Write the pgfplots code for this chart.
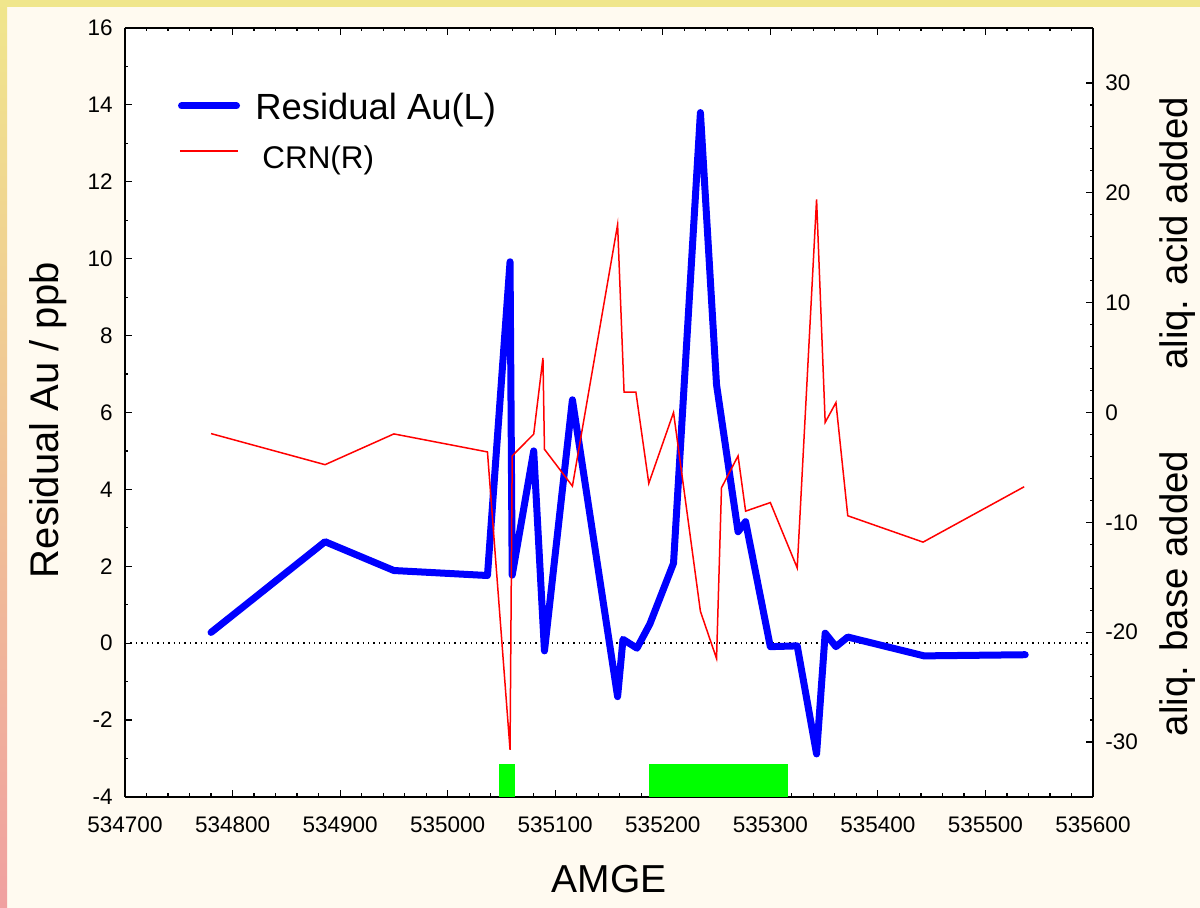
\documentclass[border=0pt]{standalone}
\usepackage{fontspec}
\setmainfont{Liberation Sans}
\usepackage{pgfplots}
\pgfplotsset{compat=1.18}
\definecolor{bgcream}{RGB}{255,250,240}
\definecolor{bandyellow}{RGB}{240,230,140}
\definecolor{bandpink}{RGB}{240,160,160}

\pgfplotstableread{
x y
534780 0.28
534886 2.64
534950 1.89
535037 1.76
535058 9.92
535060 1.77
535080 5.00
535090 -0.20
535116 6.33
535158 -1.39
535163 0.10
535176 -0.13
535188 0.50
535210 2.08
535235 13.80
535250 6.72
535270 2.90
535277 3.16
535300 -0.09
535325 -0.07
535343 -2.88
535351 0.26
535361 -0.09
535372 0.16
535443 -0.33
535537 -0.30
}\residual

\pgfplotstableread{
x y
534780 -1.92
534886 -4.75
534950 -1.95
535037 -3.59
535058 -30.7
535060 -3.95
535080 -1.97
535088.6 4.97
535090 -3.35
535116 -6.70
535158 17.1
535164 1.86
535175 1.86
535187 -6.45
535210 0.00
535235 -18.1
535250 -22.4
535254.6 -6.85
535270 -3.95
535277 -8.98
535300 -8.20
535325 -14.15
535343 19.4
535351 -0.90
535361 0.90
535372 -9.40
535442 -11.8
535536 -6.76
}\crn

\begin{document}
\begin{tikzpicture}
\useasboundingbox (0,0) rectangle (600pt,454pt);
\fill[bgcream] (0,0) rectangle (600pt,454pt);
\shade[top color=bandyellow, bottom color=bandpink] (0,0) rectangle (3.5pt,454pt);
\fill[bandyellow] (0,450.5pt) rectangle (600pt,454pt);

\pgfplotsset{
  common/.style={
    scale only axis, width=484pt, height=384.5pt,
    at={(62.5pt,55.5pt)}, anchor=south west,
    xmin=534700, xmax=535600,
    scaled x ticks=false, scaled y ticks=false,
    tick label style={font=\fontsize{11.25}{13}\selectfont},
    major tick length=3.5pt, minor tick length=1.75pt,
    every tick/.style={black, line width=0.6pt},
    axis line style={black, line width=1pt},
    tick align=inside,
  }
}

\begin{axis}[common,
  axis background/.style={fill=white},
  ymin=-4, ymax=16,
  axis y line*=left,
  xtick={534700,534800,534900,535000,535100,535200,535300,535400,535500,535600},
  xticklabels={534700,534800,534900,535000,535100,535200,535300,535400,535500,535600},
  minor x tick num=4,
  ytick={-4,-2,0,2,4,6,8,10,12,14,16},
  yticklabels={-4,-2,0,2,4,6,8,10,12,14,16},
  minor y tick num=1,
  xticklabel style={inner sep=0pt, yshift=-9.5pt},
  yticklabel style={inner sep=0pt, xshift=-6pt},
  xlabel={AMGE},
  xlabel style={at={(axis description cs:0.5,-0.1248)}, anchor=base, inner sep=0pt, font=\fontsize{19.5}{22}\selectfont},
  ylabel={Residual Au / ppb},
  ylabel style={at={(axis description cs:-0.0682,0.49)}, anchor=base, inner sep=0pt, font=\fontsize{20}{24}\selectfont},
]
\addplot[fill=green, draw=none, forget plot] coordinates {(535048,-4) (535048,-3.15) (535063,-3.15) (535063,-4)} -- cycle;
\addplot[fill=green, draw=none, forget plot] coordinates {(535187.5,-4) (535187.5,-3.15) (535316,-3.15) (535316,-4)} -- cycle;
\addplot[black, dotted, line width=0.7pt, forget plot] coordinates {(534700,0) (535600,0)};
\addplot[blue, line width=3.5pt, line cap=round, line join=round] table[x=x,y=y] {\residual};
\end{axis}

\begin{axis}[common,
  clip=false,
  ymin=-35, ymax=35,
  hide x axis,
  axis y line*=right,
  ytick={-30,-20,-10,0,10,20,30},
  yticklabels={-30,-20,-10,0,10,20,30},
  minor y tick num=4,
  yticklabel style={inner sep=0pt, xshift=6pt},
]
\addplot[red, line width=0.75pt, line join=miter] table[x=x,y=y] {\crn};

\draw[blue, line width=3.5pt, line cap=round] (axis description cs:0.0584,0.8986) -- (axis description cs:0.1152,0.8986);
\node[anchor=base west, inner sep=0pt, font=\fontsize{18.2}{21}\selectfont] at (axis description cs:0.1343,0.8804) {Residual Au(L)};
\draw[red, line width=0.75pt] (axis description cs:0.0568,0.8401) -- (axis description cs:0.1167,0.8401);
\node[anchor=base west, inner sep=0pt, font=\fontsize{15.7}{18}\selectfont] at (axis description cs:0.1416,0.8179) {CRN(R)};

\node[rotate=90, anchor=base, inner sep=0pt, font=\fontsize{19.2}{22}\selectfont] at (axis description cs:1.0975,0.7328) {aliq. acid added};
\node[rotate=90, anchor=base, inner sep=0pt, font=\fontsize{19.2}{22}\selectfont] at (axis description cs:1.0975,0.2646) {aliq. base added};
\end{axis}
\end{tikzpicture}
\end{document}
